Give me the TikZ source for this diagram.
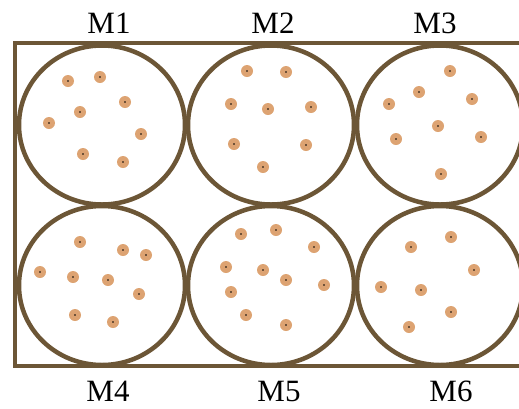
\documentclass[tikz,border=0pt]{standalone}
\usepackage{fontspec}
\setmainfont{Liberation Serif}
\usetikzlibrary{positioning}
\definecolor{rim}{RGB}{108,86,54}
\definecolor{grain}{RGB}{221,163,114}

\begin{document}
\begin{tikzpicture}[x=1pt,y=-1pt,line width=4pt,
  lbl/.style={inner sep=0pt,font=\fontsize{31}{34}\selectfont},
  vessel/.style={draw=rim,line width=4.5pt}]
\useasboundingbox (0,0) rectangle (519,408);
\draw[vessel] (15,43) rectangle (540,366);
\coordinate (c1) at (102,125); \coordinate (c2) at (271,125); \coordinate (c3) at (440,125);
\coordinate (c4) at (102,285.5); \coordinate (c5) at (271,285.5); \coordinate (c6) at (440,285.5);
\foreach \c in {c1,c2,c3,c4,c5,c6} \draw[vessel] (\c) ellipse (83pt and 79.5pt);
\node[lbl] (m1) at (109,23) {M1}; \node[lbl] (m2) at (273,23) {M2}; \node[lbl] (m3) at (435,23) {M3};
\node[lbl] (m4) at (108,391) {M4}; \node[lbl] (m5) at (279,391) {M5}; \node[lbl] (m6) at (451,391) {M6};
% particles
\foreach \p in {(68,81),(100,77),(125,102),(80,112),(49,123),(141,134),(83,154),(123,162),
  (247,71),(286,72),(231,104),(268,109),(311,107),(234,144),(306,145),(263,167),
  (450,71),(419,92),(472,99),(389,104),(438,126),(396,139),(481,137),(441,174),
  (80,242),(123,250),(146,255),(40,272),(73,277),(108,280),(139,294),(75,315),(113,322),
  (241,234),(276,230),(314,247),(226,267),(263,270),(286,280),(324,285),(231,292),(246,315),(286,325),
  (451,237),(411,247),(474,270),(381,287),(421,290),(451,312),(409,327)}
  {\fill[grain] \p circle (6pt); \fill[black] \p circle (0.8pt);}
\end{tikzpicture}
\end{document}
